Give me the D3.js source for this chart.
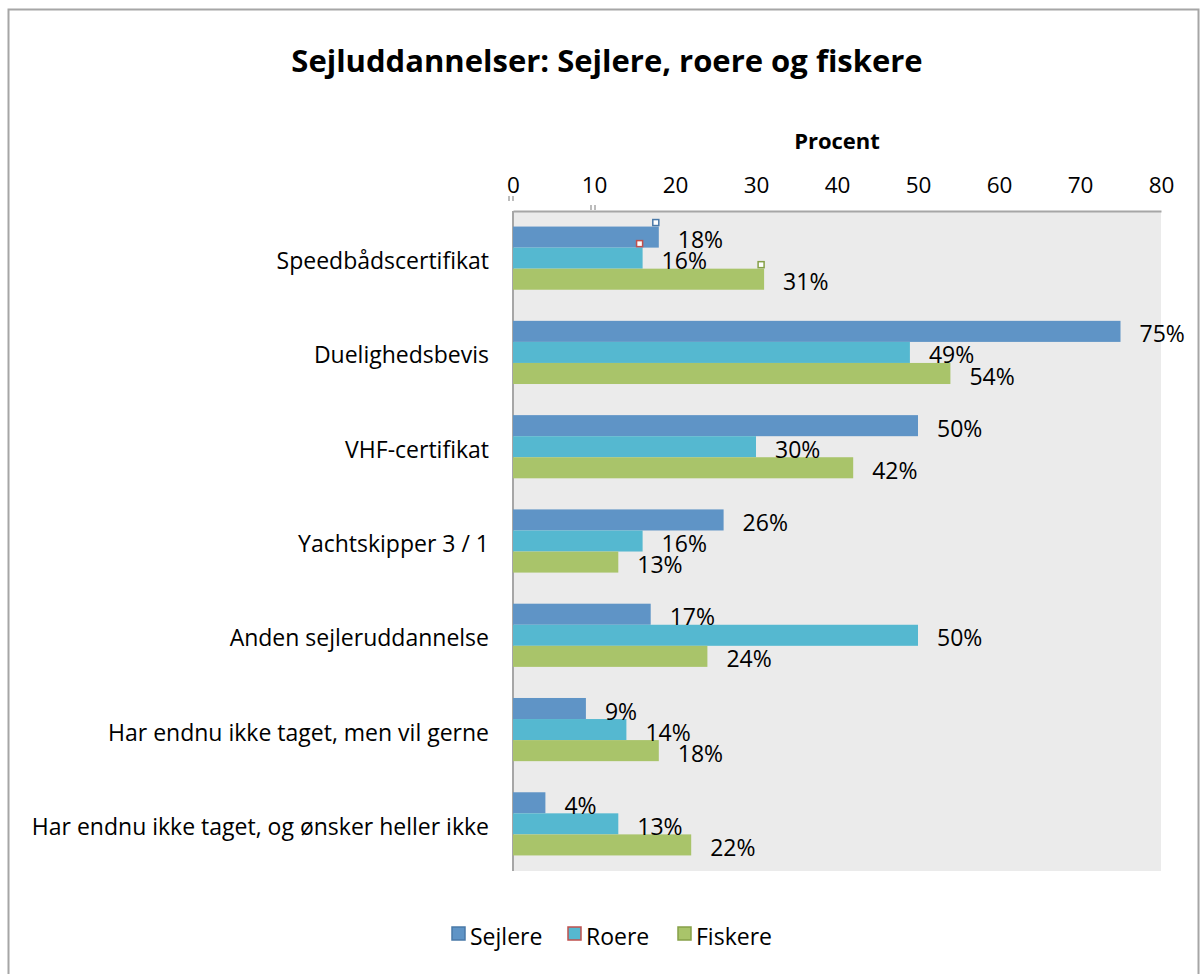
<!DOCTYPE html>
<html>
<head>
<meta charset="utf-8">
<script src="https://cdn.jsdelivr.net/npm/d3@7"></script>
<style>
  body { margin: 0; background: #fff; }
  svg { display: block; font-family: "Open Sans", "Liberation Sans", sans-serif; }
</style>
</head>
<body>
<div id="chart"></div>
<script>
// data
const categories = [
  "Speedbådscertifikat",
  "Duelighedsbevis",
  "VHF-certifikat",
  "Yachtskipper 3 / 1",
  "Anden sejleruddannelse",
  "Har endnu ikke taget, men vil gerne",
  "Har endnu ikke taget, og ønsker heller ikke"
];
const seriesNames = ["Sejlere", "Roere", "Fiskere"];
const sejlere = [18, 75, 50, 26, 17, 9, 4];
const roere   = [16, 49, 30, 16, 50, 14, 13];
const fiskere = [31, 54, 42, 13, 24, 18, 22];
const tickValues = [0, 10, 20, 30, 40, 50, 60, 70, 80];

const colors = ["#5f94c6", "#55b8d0", "#a9c46a"];
const borders = ["#4a79a8", "#c0504d", "#86a048"];

const W = 1204, H = 974;
const m = { left: 513, right: 1161, top: 211, bottom: 871 };

const svg = d3.select("#chart").append("svg")
  .attr("width", W).attr("height", H);

// outer frame
svg.append("rect")
  .attr("x", 8.5).attr("y", 9.5)
  .attr("width", 1190).attr("height", 1000)
  .attr("fill", "none").attr("stroke", "#a6a6a6").attr("stroke-width", 2);

// title
svg.append("text")
  .attr("x", 607).attr("y", 72)
  .attr("text-anchor", "middle")
  .attr("font-size", 31).attr("font-weight", "bold")
  .text("Sejluddannelser: Sejlere, roere og fiskere");

const x = d3.scaleLinear().domain([0, 80]).range([m.left, m.right]);
const y = d3.scaleBand().domain(categories).range([m.top, m.bottom]).paddingInner(0.33).paddingOuter(0.165);
const ySub = d3.scaleBand().domain(seriesNames).range([0, y.bandwidth()]);

// plot background
svg.append("rect")
  .attr("x", m.left).attr("y", m.top)
  .attr("width", m.right - m.left).attr("height", m.bottom - m.top)
  .attr("fill", "#ebebeb");

// top axis
const axis = svg.append("g")
  .attr("transform", `translate(0,${m.top})`)
  .call(d3.axisTop(x).tickValues(tickValues).tickSize(0).tickPadding(18));
axis.select(".domain").attr("stroke", "#a6a6a6").attr("stroke-width", 2);
axis.selectAll("text").attr("font-size", 22.5).attr("fill", "#000")
  .attr("font-family", "Open Sans, Liberation Sans, sans-serif");

// little stray tick marks
[[x(0) - 4, 196], [x(10) - 3, 205]].forEach(([tx, ty]) => {
  [0, 4].forEach(dx => svg.append("line")
    .attr("x1", tx + dx).attr("x2", tx + dx)
    .attr("y1", ty).attr("y2", ty + 5)
    .attr("stroke", "#a6a6a6").attr("stroke-width", 1.5));
});

svg.append("text")
  .attr("x", 837).attr("y", 149)
  .attr("text-anchor", "middle")
  .attr("font-size", 22).attr("font-weight", "bold")
  .text("Procent");

// left axis line
svg.append("line")
  .attr("x1", m.left).attr("x2", m.left)
  .attr("y1", m.top).attr("y2", m.bottom)
  .attr("stroke", "#a6a6a6").attr("stroke-width", 2);

// category labels
svg.append("g").selectAll("text")
  .data(categories).join("text")
  .attr("x", m.left - 24)
  .attr("y", d => y(d) + y.bandwidth() / 2 + 3)
  .attr("dy", "0.35em")
  .attr("text-anchor", "end")
  .attr("font-size", 23)
  .text(d => d);

// bars
const series = [sejlere, roere, fiskere];
const rows = [];
series.forEach((vals, si) => vals.forEach((v, ci) => rows.push({ s: seriesNames[si], si, c: categories[ci], v })));

svg.append("g").selectAll("rect")
  .data(rows).join("rect")
  .attr("x", x(0))
  .attr("y", d => y(d.c) + ySub(d.s))
  .attr("width", d => x(d.v) - x(0))
  .attr("height", ySub.bandwidth())
  .attr("fill", d => colors[d.si]);

// value labels
svg.append("g").selectAll("text")
  .data(rows).join("text")
  .attr("x", d => x(d.v) + 19)
  .attr("y", d => y(d.c) + ySub(d.s) + ySub.bandwidth() / 2 + 3)
  .attr("dy", "0.35em")
  .attr("font-size", 23)
  .text(d => d.v + "%");

// stray markers on first category
rows.filter(d => d.c === categories[0]).forEach(d => {
  svg.append("rect")
    .attr("x", x(d.v) - 6).attr("y", y(d.c) + ySub(d.s) - 7)
    .attr("width", 6).attr("height", 6)
    .attr("fill", "#fff").attr("stroke", borders[d.si]).attr("stroke-width", 1.5);
});

// legend
const legendX = [452, 568, 678];
const lg = svg.append("g");
seriesNames.forEach((n, i) => {
  lg.append("rect")
    .attr("x", legendX[i]).attr("y", 927)
    .attr("width", 13).attr("height", 13)
    .attr("fill", colors[i]).attr("stroke", borders[i]).attr("stroke-width", 1.5);
  lg.append("text")
    .attr("x", legendX[i] + 18).attr("y", 937)
    .attr("dy", "0.35em")
    .attr("font-size", 23)
    .text(n);
});
</script>
</body>
</html>
